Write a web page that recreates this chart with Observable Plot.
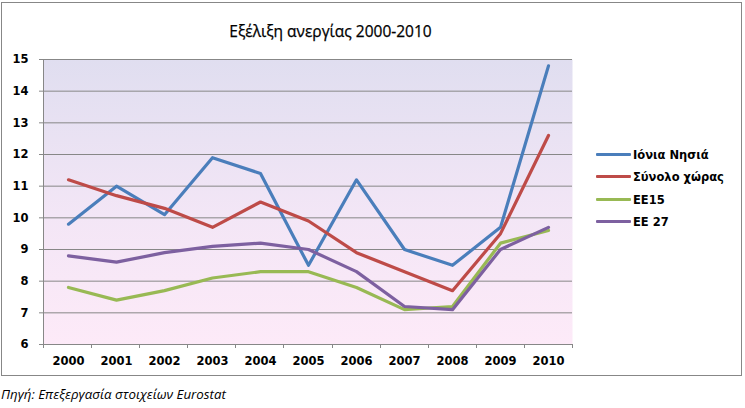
<!DOCTYPE html>
<html>
<head>
<meta charset="utf-8">
<script src="https://cdn.jsdelivr.net/npm/d3@7"></script>
<script src="https://cdn.jsdelivr.net/npm/@observablehq/plot@0.6"></script>
<style>
  html, body { margin: 0; padding: 0; background: #fff; }
  #wrap { position: relative; width: 745px; height: 408px; overflow: hidden; }
  #border { position: absolute; left: 1px; top: 2px; width: 739px; height: 372px; border: 1px solid #878787; box-sizing: content-box; }
  #title { position: absolute; left: 0; top: 20px; width: 661px; text-align: center; font-family: "Open Sans", sans-serif; font-size: 15.5px; color: #000; -webkit-text-stroke: 0.25px #000; }
  #caption { position: absolute; left: 1px; top: 385px; font-family: "Open Sans", sans-serif; font-style: italic; font-size: 13.3px; color: #000; }
  #chart { position: absolute; left: 0; top: 0; }
  .leg { position: absolute; left: 596px; font-family: "DejaVu Sans", sans-serif; font-weight: bold; font-size: 11.5px; color: #000; height: 14px; line-height: 14px; white-space: nowrap; }
  .leg span.sw { display: inline-block; width: 35px; height: 3px; vertical-align: middle; margin-right: 2px; position: relative; top: -1px; border-radius: 1px; }
</style>
</head>
<body>
<div id="wrap">
  <div id="border"></div>
  <div id="chart"></div>
  <div id="title"></div>
  <div id="legend"></div>
  <div id="caption"></div>
</div>
<script>
const years = ["2000","2001","2002","2003","2004","2005","2006","2007","2008","2009","2010"];
const seriesNames = ["Ιόνια Νησιά", "Σύνολο χώρας", "ΕΕ15", "ΕΕ 27"];
const ioniaNisia = [9.8, 11.0, 10.1, 11.9, 11.4, 8.5, 11.2, 9.0, 8.5, 9.7, 14.8];
const synoloXoras = [11.2, 10.7, 10.3, 9.7, 10.5, 9.9, 8.9, 8.3, 7.7, 9.5, 12.6];
const ee15 = [7.8, 7.4, 7.7, 8.1, 8.3, 8.3, 7.8, 7.1, 7.2, 9.2, 9.6];
const ee27 = [8.8, 8.6, 8.9, 9.1, 9.2, 9.0, 8.3, 7.2, 7.1, 9.0, 9.7];
const yTicks = [6, 7, 8, 9, 10, 11, 12, 13, 14, 15];
const colors = ["#4A7EBB", "#BE4B48", "#98B954", "#7D60A0"];
const titleText = "Εξέλιξη ανεργίας 2000-2010";
const captionText = "Πηγή: Επεξεργασία στοιχείων Eurostat";

const allSeries = [ioniaNisia, synoloXoras, ee15, ee27];
const data = [];
allSeries.forEach((vals, si) => {
  vals.forEach((v, i) => data.push({year: years[i], value: v, series: seriesNames[si]}));
});

const W = 745, H = 380, ML = 43, MR = 173, MT = 59, MB = 36;

const chart = Plot.plot({
  width: W,
  height: H,
  marginLeft: ML,
  marginRight: MR,
  marginTop: MT,
  marginBottom: MB,
  style: { background: "transparent", overflow: "visible" },
  x: { type: "band", domain: years, padding: 0, label: null },
  y: { domain: [6, 15], ticks: yTicks, label: null },
  color: { domain: seriesNames, range: colors },
  marks: [
    Plot.frame({ fill: "url(#bggrad)", stroke: "none" }),
    Plot.ruleY(yTicks, { stroke: "#878787", strokeWidth: 1, strokeOpacity: 1, insetLeft: -4 }),
    Plot.axisY({ ticks: yTicks, tickSize: 0, tickPadding: 15, fontFamily: "DejaVu Sans", fontWeight: "bold", fontSize: 11.5, fill: "#000", label: null }),
    Plot.axisX({ tickSize: 0, tickPadding: 12, fontFamily: "DejaVu Sans", fontWeight: "bold", fontSize: 11.5, fill: "#000", label: null }),
    Plot.line(data, { x: "year", y: "value", z: "series", stroke: "series", strokeWidth: 3.2, strokeLinejoin: "round", strokeLinecap: "round" })
  ]
});

// background gradient
const ns = "http://www.w3.org/2000/svg";
const defs = document.createElementNS(ns, "defs");
defs.innerHTML = '<linearGradient id="bggrad" x1="0" y1="0" x2="0" y2="1">' +
  '<stop offset="0" stop-color="#E0DEF0"/><stop offset="0.55" stop-color="#F3E6F6"/><stop offset="1" stop-color="#FDEAF8"/></linearGradient>';
chart.insertBefore(defs, chart.firstChild);

// left axis line and x tick marks at band boundaries
const plotLeft = ML, plotRight = W - MR, plotBottom = H - MB, plotTop = MT;
const g = document.createElementNS(ns, "g");
g.setAttribute("stroke", "#878787");
g.setAttribute("stroke-width", "1");
let html = `<line x1="${plotLeft + 0.5}" x2="${plotLeft + 0.5}" y1="${plotTop}" y2="${plotBottom}"/>`;
for (let i = 0; i <= years.length; i++) {
  const xx = Math.round(plotLeft + i * (plotRight - plotLeft) / years.length) + 0.5;
  html += `<line x1="${xx}" x2="${xx}" y1="${plotBottom}" y2="${plotBottom + 4}"/>`;
}
g.innerHTML = html;
const lineGroup = chart.querySelector('g[aria-label="line"]');
if (lineGroup) chart.insertBefore(g, lineGroup); else chart.appendChild(g);

document.getElementById("chart").appendChild(chart);
document.getElementById("title").textContent = titleText;
document.getElementById("caption").textContent = captionText;
const legendYs = [155, 177, 200, 222];
const leg = document.getElementById("legend");
seriesNames.forEach((n, i) => {
  const d = document.createElement("div");
  d.className = "leg";
  d.style.top = (legendYs[i] - 7) + "px";
  d.innerHTML = `<span class="sw" style="background:${colors[i]}"></span>`;
  d.appendChild(document.createTextNode(n));
  leg.appendChild(d);
});
</script>
</body>
</html>
